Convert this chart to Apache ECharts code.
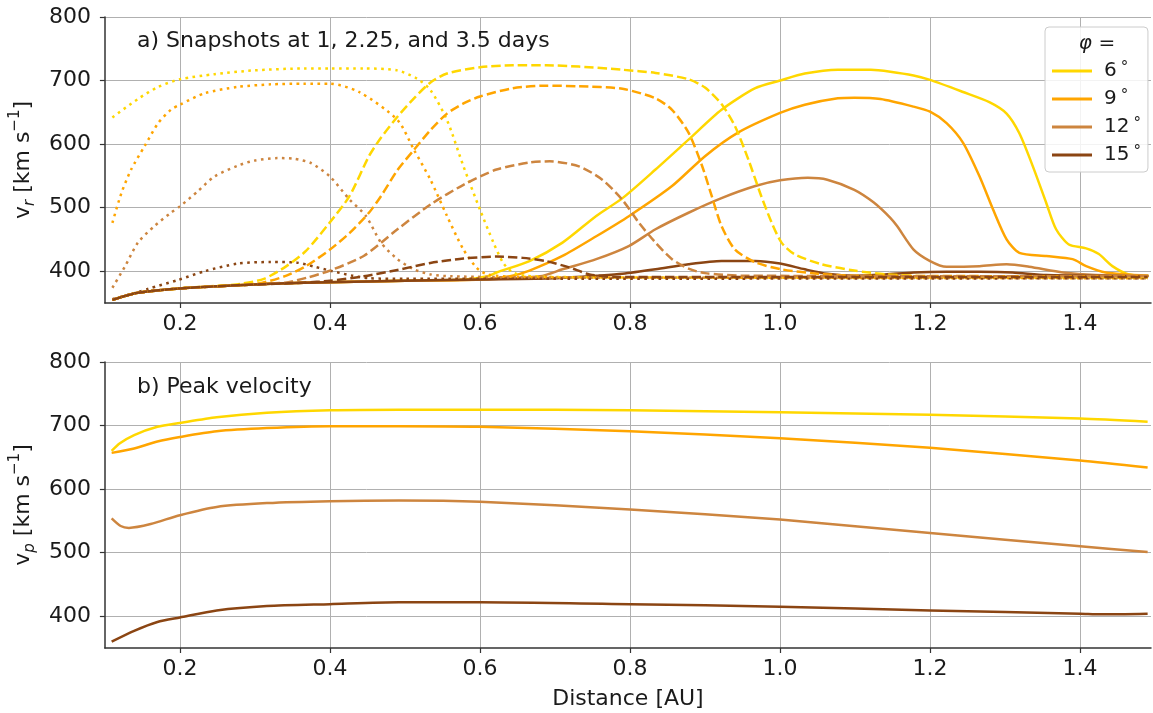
<!DOCTYPE html>
<html><head><meta charset="utf-8">
<script src="https://cdn.jsdelivr.net/npm/echarts@6/dist/echarts.min.js"></script>
<style>html,body{margin:0;padding:0;background:#fff}#c{width:1153px;height:713px}</style>
</head><body><div id="c"></div>
<script>
// ---------- data ----------
const angles = ['6', '9', '12', '15'];          // phi in degrees
const xTicks = [0.2, 0.4, 0.6, 0.8, 1.0, 1.2, 1.4];
const yTicks = [400, 500, 600, 700, 800];

// a) snapshots after 1 day (dotted)
const day1_6 = [[0.11,642],[0.144,671],[0.171,690],[0.2,702],[0.246,710],[0.299,716],[0.365,719],[0.4,719],[0.445,719],[0.49,716],[0.516,703],[0.534,685],[0.556,638],[0.578,565],[0.6,497],[0.618,445],[0.631,413],[0.644,398],[0.66,393],[0.7,391],[0.8,390],[1.0,390],[1.2,390],[1.49,390]];
const day1_9 = [[0.11,476],[0.122,523],[0.135,560],[0.153,597],[0.171,633],[0.188,654],[0.2,662],[0.233,680],[0.277,690],[0.321,694],[0.365,695],[0.4,695],[0.439,682],[0.49,638],[0.512,591],[0.534,544],[0.556,487],[0.578,434],[0.596,405],[0.61,395],[0.65,391],[0.8,390],[1.49,389]];
const day1_12 = [[0.11,374],[0.127,408],[0.144,445],[0.166,471],[0.188,492],[0.2,502],[0.224,526],[0.246,549],[0.277,566],[0.299,574],[0.33,578],[0.352,577],[0.375,570],[0.4,549],[0.426,513],[0.448,487],[0.468,445],[0.49,419],[0.512,403],[0.534,395],[0.56,392],[0.7,390],[1.49,389]];
const day1_15 = [[0.11,356],[0.144,367],[0.157,372],[0.197,386],[0.233,400],[0.277,412],[0.321,414.5],[0.356,413.5],[0.38,407],[0.4,401],[0.43,393],[0.452,389],[0.5,388],[1.49,389]];

// a) snapshots after 2.25 days (dashed)
const day2_6 = [[0.11,355],[0.144,366],[0.2,373],[0.25,377],[0.28,380],[0.312,388],[0.342,408],[0.368,432],[0.4,477],[0.426,518],[0.452,581],[0.468,610],[0.49,643],[0.512,672],[0.534,697],[0.556,711],[0.6,721],[0.644,724],[0.688,724],[0.732,722],[0.79,717],[0.834,712],[0.878,702],[0.9,689],[0.922,663],[0.94,628],[0.958,575],[0.975,518],[0.989,476],[1.002,445],[1.019,427],[1.055,411],[1.099,401],[1.143,395],[1.2,392],[1.49,391]];
const day2_9 = [[0.11,355],[0.144,366],[0.2,373],[0.277,378],[0.31,382],[0.342,393],[0.368,408],[0.4,434],[0.426,460],[0.452,492],[0.468,518],[0.49,559],[0.512,591],[0.534,622],[0.556,648],[0.578,664],[0.6,675],[0.644,688],[0.688,692],[0.732,691],[0.79,687],[0.834,672],[0.856,654],[0.878,618],[0.896,566],[0.909,518],[0.922,471],[0.94,434],[0.967,414],[1.002,403],[1.05,396],[1.1,393],[1.49,392]];
const day2_12 = [[0.11,355],[0.144,366],[0.2,373],[0.277,378],[0.34,382],[0.37,390],[0.4,401],[0.445,424],[0.49,466],[0.534,505],[0.578,536],[0.622,560],[0.666,571],[0.693,573],[0.732,565],[0.763,544],[0.79,512],[0.812,476],[0.834,445],[0.856,419],[0.878,404],[0.9,397],[0.95,393],[1.49,392]];
const day2_15 = [[0.11,355],[0.144,366],[0.2,373],[0.277,378],[0.365,382],[0.4,385],[0.445,392],[0.49,402],[0.534,413],[0.578,420],[0.622,423],[0.657,421],[0.688,416],[0.719,406],[0.746,395],[0.78,391],[1.49,391]];

// a) snapshots after 3.5 days (solid)
const day3_6 = [[0.11,355],[0.144,366],[0.2,373],[0.277,378],[0.365,382],[0.5,385],[0.58,387],[0.61,392],[0.622,398],[0.666,416],[0.71,445],[0.755,487],[0.79,515],[0.834,560],[0.878,607],[0.922,654],[0.967,688],[1.0,700],[1.033,711],[1.077,717],[1.121,717],[1.147,714],[1.178,708],[1.2,701],[1.244,682],[1.279,666],[1.302,648],[1.319,617],[1.337,565],[1.355,507],[1.368,466],[1.385,442],[1.408,436],[1.425,427],[1.443,408],[1.465,395],[1.491,393]];
const day3_9 = [[0.11,355],[0.144,366],[0.2,373],[0.277,378],[0.365,382],[0.5,385],[0.6,387],[0.64,392],[0.666,401],[0.71,424],[0.755,455],[0.799,487],[0.856,534],[0.9,581],[0.944,618],[1.0,649],[1.033,662],[1.077,672],[1.099,673],[1.134,671],[1.178,659],[1.2,651],[1.222,633],[1.244,602],[1.266,549],[1.284,497],[1.302,450],[1.319,429],[1.355,424],[1.39,419],[1.408,408],[1.434,398],[1.491,393]];
const day3_12 = [[0.11,355],[0.144,366],[0.2,373],[0.277,378],[0.365,382],[0.5,385],[0.6,387],[0.68,392],[0.71,403],[0.755,419],[0.799,440],[0.834,466],[0.878,492],[0.922,515],[0.967,534],[1.0,543],[1.037,547],[1.063,544],[1.099,528],[1.125,508],[1.147,484],[1.156,471],[1.178,434],[1.2,416],[1.222,407],[1.266,408],[1.302,411],[1.332,407],[1.377,398],[1.42,394],[1.491,393]];
const day3_15 = [[0.11,355],[0.144,366],[0.2,373],[0.277,378],[0.365,382],[0.5,385],[0.6,387],[0.7,389],[0.755,393],[0.79,396],[0.834,403],[0.878,411],[0.922,416],[0.967,416],[1.0,412],[1.033,403],[1.063,396],[1.099,393],[1.14,395],[1.178,398],[1.222,399],[1.266,399],[1.31,398],[1.355,394],[1.491,392]];

// b) peak velocity
const peak_6 = [[0.109,660],[0.12,672],[0.139,685],[0.17,698],[0.2,704],[0.249,713],[0.316,720],[0.4,724],[0.492,725],[0.6,725],[0.8,724],[1.0,721],[1.2,717],[1.4,711],[1.49,706]];
const peak_9 = [[0.109,657],[0.139,664],[0.17,675],[0.2,682],[0.249,691],[0.316,696],[0.4,699],[0.492,699],[0.6,698],[0.8,691],[1.0,680],[1.2,665],[1.4,645],[1.49,634]];
const peak_12 = [[0.109,554],[0.121,542],[0.132,539],[0.161,545],[0.2,559],[0.249,572],[0.316,578],[0.4,581],[0.492,582],[0.6,580],[0.8,568],[1.0,552],[1.2,531],[1.4,510],[1.49,501]];
const peak_15 = [[0.109,360],[0.139,377],[0.17,391],[0.2,398],[0.249,409],[0.316,416],[0.4,419],[0.492,422],[0.6,422],[0.8,419],[1.0,415],[1.2,409],[1.4,404],[1.428,403],[1.49,404]];

// ---------- styling ----------
const colors = ['#FFD700', '#FFA500', '#CD853F', '#8B4513'];
const FONT = 'DejaVu Sans';
const TXT = '#1a1a1a';
const LW = 2.5;

const solid = [day3_6, day3_9, day3_12, day3_15];
const dashed = [day2_6, day2_9, day2_12, day2_15];
const dotted = [day1_6, day1_9, day1_12, day1_15];
const peaks = [peak_6, peak_9, peak_12, peak_15];

function xAxis(gi, withName) {
  return {
    type: 'value', gridIndex: gi, min: 0.1, max: 1.4945,
    name: withName ? 'Distance [AU]' : '', nameLocation: 'middle', nameGap: 40,
    nameTextStyle: { fontFamily: FONT, fontSize: 22, color: TXT },
    axisLine: { show: true, onZero: false, lineStyle: { color: '#333', width: 1.5 } },
    axisTick: { show: true, length: 5, customValues: xTicks, lineStyle: { color: '#333', width: 1.2 } },
    axisLabel: { customValues: xTicks, margin: 10, fontFamily: FONT, fontSize: 22, color: TXT,
                 formatter: v => v.toFixed(1) },
    splitLine: { show: true, lineStyle: { color: '#b0b0b0', width: 1 } }
  };
}
function yAxis(gi, sub) {
  return {
    type: 'value', gridIndex: gi, min: 350, max: 800,
    name: '{n|v}{i|' + sub + '}{n| [km s}{s|−1}{n|]}',
    nameLocation: 'middle', nameGap: 62,
    nameTextStyle: { fontFamily: FONT, fontSize: 22, color: TXT,
      rich: {
        n: { fontFamily: FONT, fontSize: 22, color: TXT, lineHeight: 30, verticalAlign: 'middle' },
        i: { fontFamily: FONT, fontSize: 15, color: TXT, fontStyle: 'italic', lineHeight: 16, verticalAlign: 'bottom' },
        s: { fontFamily: FONT, fontSize: 15, color: TXT, lineHeight: 16, verticalAlign: 'top' }
      } },
    axisLine: { show: true, lineStyle: { color: '#333', width: 1.5 } },
    axisTick: { show: true, length: 5, customValues: yTicks, lineStyle: { color: '#333', width: 1.2 } },
    axisLabel: { customValues: yTicks, margin: 14, fontFamily: FONT, fontSize: 22, color: TXT },
    splitLine: { show: true, lineStyle: { color: '#b0b0b0', width: 1 } }
  };
}

const series = [];
function addSet(sets, gi, type) {
  sets.forEach((d, i) => {
    series.push({
      type: 'line', name: angles[i], xAxisIndex: gi, yAxisIndex: gi, data: d,
      showSymbol: false, symbol: 'none', smooth: 0.25,
      lineStyle: { color: colors[i], width: LW, type: type, cap: 'butt', join: 'round' },
      itemStyle: { color: colors[i] },
      emphasis: { disabled: true }, silent: true
    });
  });
}
addSet(solid, 0, 'solid');
addSet(dotted, 0, [2.6, 4.4]);
addSet(dashed, 0, [9.3, 4]);
addSet(peaks, 1, 'solid');

const option = {
  animation: false,
  backgroundColor: '#ffffff',
  grid: [
    { left: 99, right: 2, top: 17, height: 286 },
    { left: 99, right: 2, top: 362, height: 286 }
  ],
  xAxis: [xAxis(0, false), xAxis(1, true)],
  yAxis: [yAxis(0, 'r'), yAxis(1, 'p')],
  legend: {
    orient: 'vertical', left: 1045, top: 27,
    padding: [33, 7, 6, 7], itemWidth: 40, itemHeight: 3, itemGap: 6, icon: 'rect',
    data: angles,
    formatter: n => '{a|' + n + '}{b|°}',
    textStyle: { fontFamily: FONT, fontSize: 20, color: TXT, padding: [0, 0, 0, 7], lineHeight: 22,
      rich: { a: { fontFamily: FONT, fontSize: 20, color: TXT, lineHeight: 22 },
              b: { fontFamily: FONT, fontSize: 15, color: TXT, lineHeight: 22, padding: [0, 0, 6, 4] } } },
    backgroundColor: 'rgba(255,255,255,0.85)', borderColor: '#cccccc', borderWidth: 1, borderRadius: 4,
    selectedMode: false
  },
  graphic: [
    { type: 'text', z: 100, x: 137, y: 41,
      style: { text: 'a) Snapshots at 1, 2.25, and 3.5 days', fontFamily: FONT, fontSize: 22, fill: TXT, verticalAlign: 'middle', align: 'left' } },
    { type: 'text', z: 100, x: 137, y: 387,
      style: { text: 'b) Peak velocity', fontFamily: FONT, fontSize: 22, fill: TXT, verticalAlign: 'middle', align: 'left' } },
    { type: 'text', z: 100, x: 1097, y: 44,
      style: { text: '{i|φ}{n| =}', align: 'center', verticalAlign: 'middle',
        rich: { i: { fontFamily: FONT, fontSize: 20, fontStyle: 'italic', fill: TXT },
                n: { fontFamily: FONT, fontSize: 20, fill: TXT } } } }
  ],
  series: series
};
const chart = echarts.init(document.getElementById('c'), null, { renderer: 'canvas' });
chart.setOption(option);
</script>
</body></html>
